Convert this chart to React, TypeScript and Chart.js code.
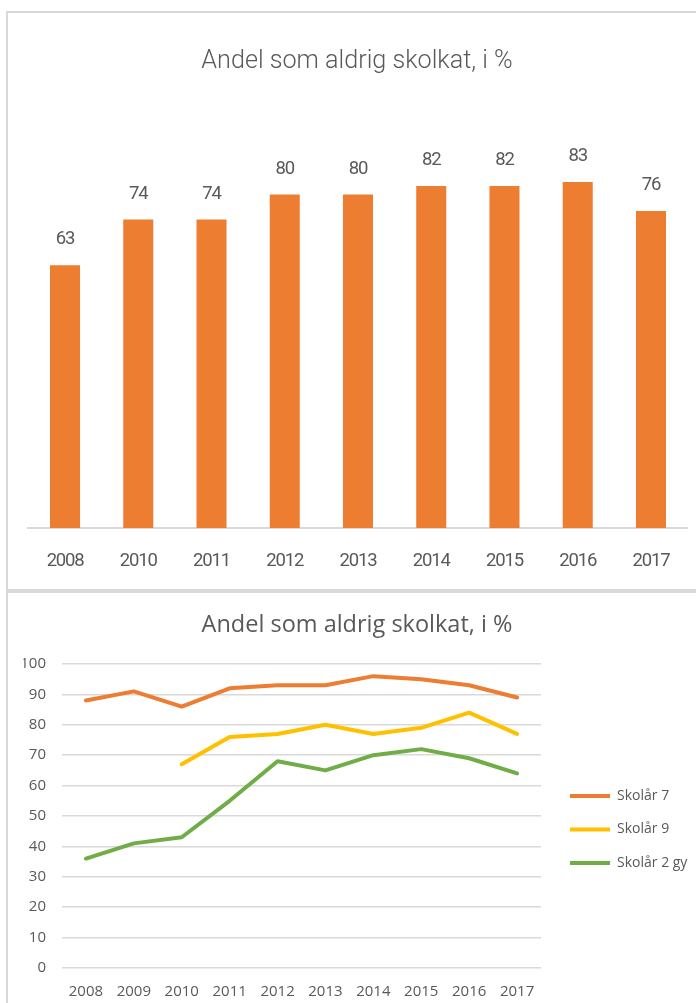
import React, { useEffect, useRef } from "react";
import { Chart, registerables } from "chart.js";

Chart.register(...registerables);

// ---- data ----
const chartTitle = "Andel som aldrig skolkat, i %";

const barYears = ["2008", "2010", "2011", "2012", "2013", "2014", "2015", "2016", "2017"];
const barValues = [63, 74, 74, 80, 80, 82, 82, 83, 76];

const lineYears = ["2008", "2009", "2010", "2011", "2012", "2013", "2014", "2015", "2016", "2017"];
const skolar7 = [88, 91, 86, 92, 93, 93, 96, 95, 93, 89];
const skolar9 = [null, null, 67, 76, 77, 80, 77, 79, 84, 77];
const skolar2gy = [36, 41, 43, 55, 68, 65, 70, 72, 69, 64];
const seriesNames = ["Skolår 7", "Skolår 9", "Skolår 2 gy"];

// ---- styles ----
const TEXT = "#595959";
const GRID = "#d9d9d9";
const ORANGE = "#ED7D31";
const YELLOW = "#FFC000";
const GREEN = "#70AD47";
const NARROW = 'Roboto, "Liberation Sans", sans-serif';
const OPEN = '"Open Sans", "Noto Sans", sans-serif';

// Condensed look for the bar chart labels (value labels and x tick labels,
// which are drawn after the datasets).
const condense = {
  id: "condense",
  beforeDatasetsDraw(chart: any) {
    (chart.ctx as any).letterSpacing = "-1.2px";
  },
  afterDraw(chart: any) {
    (chart.ctx as any).letterSpacing = "0px";
  },
};

const valueLabels = {
  id: "valueLabels",
  afterDatasetsDraw(chart: any) {
    const ctx = chart.ctx;
    const meta = chart.getDatasetMeta(0);
    ctx.save();
    ctx.fillStyle = TEXT;
    ctx.font = `18.5px ${NARROW}`;
    ctx.textAlign = "center";
    ctx.textBaseline = "middle";
    meta.data.forEach((bar: any, i: number) => {
      const v = chart.data.datasets[0].data[i];
      ctx.fillText(String(v), bar.x, bar.y - 25.5);
    });
    ctx.restore();
  },
};

function BarChart() {
  const ref = useRef<HTMLCanvasElement>(null);
  useEffect(() => {
    const chart = new Chart(ref.current!, {
      type: "bar",
      data: {
        labels: barYears,
        datasets: [
          {
            data: barValues,
            backgroundColor: ORANGE,
            categoryPercentage: 1,
            barPercentage: 0.41,
          },
        ],
      },
      options: {
        responsive: false,
        animation: false,
        layout: { padding: { left: 18, right: 0, top: 0, bottom: 0 } },
        plugins: {
          legend: { display: false },
          tooltip: { enabled: false },
          title: {
            display: true,
            text: chartTitle,
            color: TEXT,
            font: { family: NARROW, size: 25.2, weight: "300" as any, lineHeight: 1.2 },
            padding: { top: 34.4, bottom: 34.4 },
          },
        },
        scales: {
          x: {
            grid: { display: false, drawTicks: false },
            border: { display: true, color: GRID, width: 2 },
            ticks: {
              color: TEXT,
              font: { family: NARROW, size: 18.5 },
              padding: 22.5,
              maxRotation: 0,
              autoSkip: false,
              z: 1,
            },
            afterFit: (s: any) => {
              s.height = 61;
            },
          },
          y: {
            min: 0,
            max: 100,
            display: true,
            grid: { display: false, drawTicks: false },
            border: { display: false },
            ticks: { display: false },
            afterFit: (s: any) => {
              s.width = 10.4;
            },
          },
          gapR: {
            type: "linear",
            position: "right",
            display: true,
            grid: { display: false, drawTicks: false },
            border: { display: false },
            ticks: { display: false },
            afterFit: (s: any) => {
              s.width = 8.4;
            },
          },
        } as any,
      },
      plugins: [condense, valueLabels],
    });
    return () => chart.destroy();
  }, []);
  return (
    <canvas
      ref={ref}
      width={696}
      height={577}
      style={{ position: "absolute", left: 0, top: 12, width: 696, height: 577, zIndex: 2 }}
    />
  );
}

function LineChart() {
  const ref = useRef<HTMLCanvasElement>(null);
  useEffect(() => {
    const common = {
      borderWidth: 4,
      pointRadius: 0,
      pointHoverRadius: 0,
      borderCapStyle: "round" as const,
      borderJoinStyle: "round" as const,
      tension: 0,
      spanGaps: false,
    };
    const chart = new Chart(ref.current!, {
      type: "line",
      data: {
        labels: lineYears,
        datasets: [
          { label: seriesNames[0], data: skolar7, borderColor: ORANGE, backgroundColor: ORANGE, ...common },
          { label: seriesNames[1], data: skolar9 as any, borderColor: YELLOW, backgroundColor: YELLOW, ...common },
          { label: seriesNames[2], data: skolar2gy, borderColor: GREEN, backgroundColor: GREEN, ...common },
        ],
      },
      options: {
        responsive: false,
        animation: false,
        layout: { padding: { left: 23.5, right: 5.5, top: 0, bottom: 0 } },
        plugins: {
          tooltip: { enabled: false },
          title: {
            display: true,
            text: chartTitle,
            color: TEXT,
            font: { family: OPEN, size: 23.5, weight: "normal" as any, lineHeight: 1.2 },
            padding: { top: 18.4, bottom: 24.4 },
          },
          legend: {
            display: true,
            position: "right",
            align: "center",
            maxWidth: 140,
            title: {
              display: true,
              text: "",
              font: { size: 10, lineHeight: 1 },
              padding: { top: 53, bottom: 0 },
            },
            labels: {
              boxWidth: 40,
              boxHeight: 4,
              padding: 19.5,
              color: TEXT,
              font: { family: OPEN, size: 14 },
              generateLabels: (c: any) =>
                Chart.defaults.plugins.legend.labels
                  .generateLabels(c)
                  .map((l: any) => ({ ...l, lineWidth: 0 })),
            },
          },
        },
        scales: {
          x: {
            offset: true,
            grid: { display: false, drawTicks: false },
            border: { display: false },
            ticks: {
              color: TEXT,
              font: { family: OPEN, size: 15 },
              padding: 15,
              maxRotation: 0,
              autoSkip: false,
            },
            afterFit: (s: any) => {
              s.height = 35;
            },
          },
          y: {
            min: 0,
            max: 100,
            ticks: {
              stepSize: 10,
              color: TEXT,
              font: { family: OPEN, size: 15 },
              padding: 16,
            },
            grid: { color: GRID, lineWidth: 1.5, drawTicks: false },
            border: { display: false },
            afterFit: (s: any) => {
              s.width = 38.5;
            },
          },
          gapR: {
            type: "linear",
            position: "right",
            display: true,
            grid: { display: false, drawTicks: false },
            border: { display: false },
            ticks: { display: false },
            afterFit: (s: any) => {
              s.width = 9.5;
            },
          },
        } as any,
      },
    });
    return () => chart.destroy();
  }, []);
  return (
    <canvas
      ref={ref}
      width={696}
      height={410}
      style={{ position: "absolute", left: 0, top: 593, width: 696, height: 410, zIndex: 2 }}
    />
  );
}

export default function App() {
  return (
    <div
      style={{
        position: "fixed",
        left: 0,
        top: 0,
        width: 696,
        height: 1003,
        overflow: "hidden",
        background: "#ffffff",
      }}
    >
      {/* chart frames */}
      <div style={{ position: "absolute", left: 6, top: 11, width: 2, height: 992, background: GRID }} />
      <div style={{ position: "absolute", left: 6, top: 11, width: 690, height: 2, background: GRID }} />
      <div style={{ position: "absolute", left: 6, top: 589, width: 690, height: 4, background: GRID }} />
      <BarChart />
      <LineChart />
    </div>
  );
}
